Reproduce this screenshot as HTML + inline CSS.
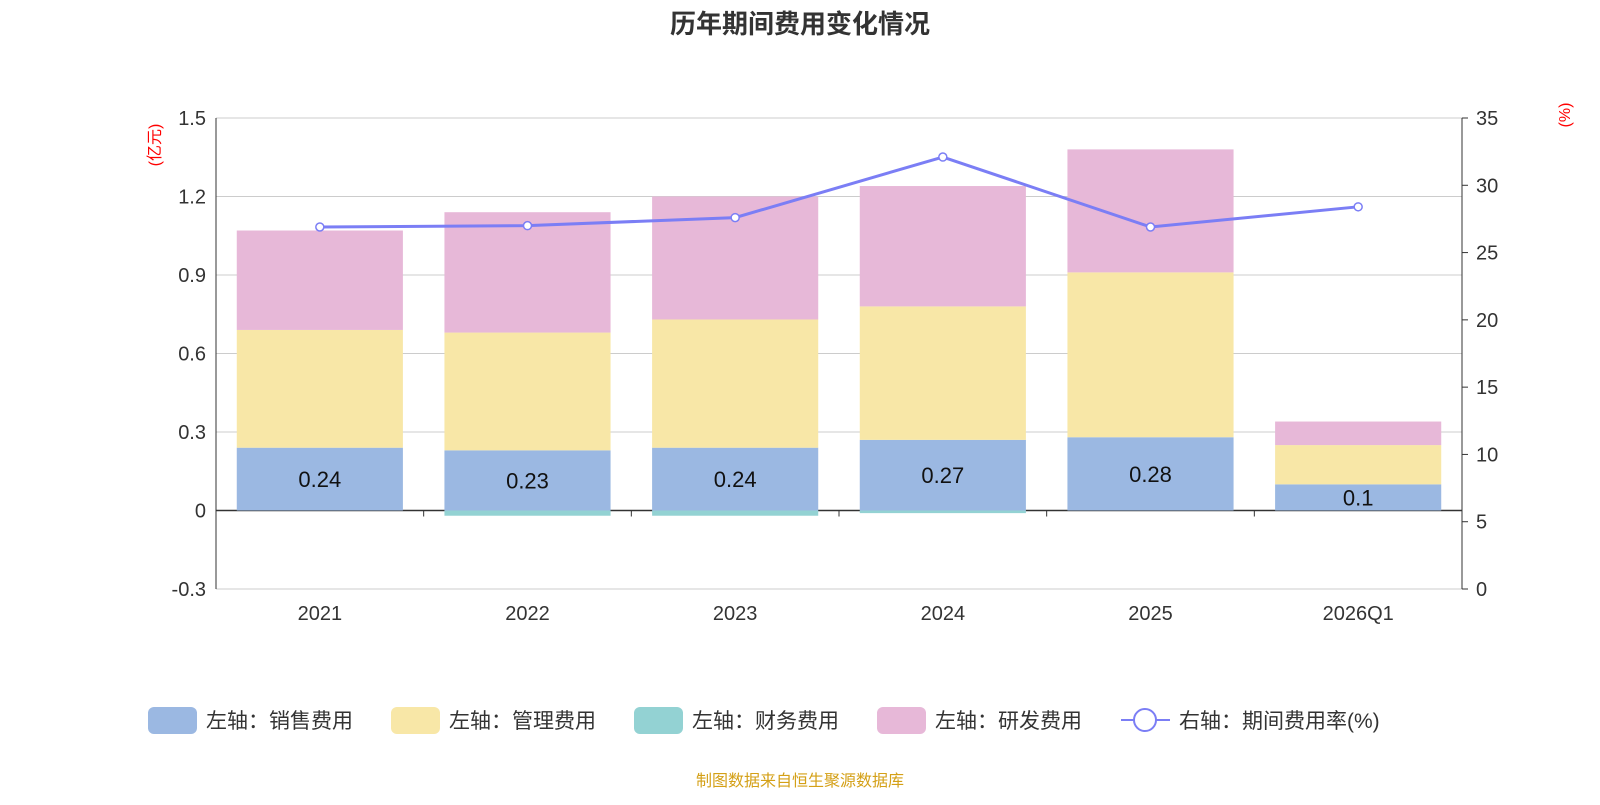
<!DOCTYPE html>
<html><head><meta charset="utf-8"><style>
body{margin:0;background:#fff;font-family:"Liberation Sans","Noto Sans CJK SC",sans-serif;}
svg text{font-family:"Liberation Sans","Noto Sans CJK SC",sans-serif;}
</style></head><body>
<svg id="c" width="1600" height="800">
<text x="800" y="33" text-anchor="middle" font-size="26" font-weight="bold" fill="#333">历年期间费用变化情况</text>
<text transform="translate(160,145) rotate(-90)" text-anchor="middle" font-size="16" fill="#f00">(亿元)</text>
<text transform="translate(1570,115) rotate(-90)" text-anchor="middle" font-size="16" fill="#f00">(%)</text>
<g id="grid"></g><g id="bars"></g><g id="line"></g><g id="axes"></g>
<g id="legend"></g>
<text x="800" y="786" text-anchor="middle" font-size="16" fill="#d4a017">制图数据来自恒生聚源数据库</text>
</svg>
<script>
const categories=["2021","2022","2023","2024","2025","2026Q1"];
const sales=[0.24,0.23,0.24,0.27,0.28,0.10];
const mgmt=[0.45,0.45,0.49,0.51,0.63,0.15];
const fin=[0,-0.02,-0.02,-0.01,0,0];
const rd=[0.38,0.46,0.47,0.46,0.47,0.09];
const rate=[26.9,27.0,27.6,32.1,26.9,28.4];
const leftTicks=[-0.3,0,0.3,0.6,0.9,1.2,1.5];
const rightTicks=[0,5,10,15,20,25,30,35];
const L=216,R=1462,T=118,B=589;
const yL=v=>B-(v+0.3)/1.8*(B-T);
const yR=v=>B-v/35*(B-T);
const bw=(R-L)/categories.length;
const xC=i=>L+bw*(i+0.5);
const NS="http://www.w3.org/2000/svg";
function mk(tag,attrs,parent,text){const e=document.createElementNS(NS,tag);for(const k in attrs)e.setAttribute(k,attrs[k]);if(text!==undefined)e.textContent=text;document.getElementById(parent).appendChild(e);return e;}
leftTicks.forEach(t=>{
 const g=mk('line',{x1:L,x2:R,y1:yL(t),y2:yL(t),stroke:t===0?'#333':'#ccc','stroke-width':t===0?1.5:1},'grid');
 
 const tx=mk('text',{x:L-10,y:yL(t)+7,'text-anchor':'end','font-size':20,fill:'#333'},'axes',String(t));
 
});
rightTicks.forEach(t=>{
 const tx=mk('text',{x:R+14,y:yR(t)+7,'font-size':20,fill:'#333'},'axes',String(t));
 
 const tk=mk('line',{x1:R,x2:R+6,y1:yR(t),y2:yR(t),stroke:'#333'},'axes');
 
});
mk('line',{x1:L,x2:L,y1:T,y2:B,stroke:'#333'},'axes');
mk('line',{x1:R,x2:R,y1:T,y2:B,stroke:'#333'},'axes');
for(let i=0;i<=categories.length;i++){const tk=mk('line',{x1:L+bw*i,x2:L+bw*i,y1:yL(0),y2:yL(0)+6,stroke:'#333'},'axes');}
const cols=['#9bb8e2','#f8e7a7','#93d2d3','#e7b8d8'];
const series=[sales,mgmt,fin,rd];
categories.forEach((c,i)=>{
 const tx=mk('text',{x:xC(i),y:620,'text-anchor':'middle','font-size':20,fill:'#333'},'axes',c);
 
 let pos=0,neg=0;const w=bw*0.8;
 series.forEach((s,k)=>{
  const v=s[i];let y0,y1;
  if(v>=0){y0=pos;y1=pos+v;pos=y1;}else{y0=neg;y1=neg+v;neg=y1;}
  const r=mk('rect',{x:xC(i)-w/2,y:Math.min(yL(y0),yL(y1)),width:w,height:Math.abs(yL(y1)-yL(y0)),fill:cols[k]},'bars');
  
 });
 const lb=mk('text',{x:xC(i),y:(yL(0)+yL(sales[i]))/2+8,'text-anchor':'middle','font-size':22,fill:'#111'},'bars',String(sales[i]));
 
});
const pts=rate.map((v,i)=>xC(i)+','+yR(v)).join(' ');
const pl=mk('polyline',{points:pts,fill:'none',stroke:'#7b7ef5','stroke-width':3},'line');

rate.forEach((v,i)=>{const p=mk('circle',{cx:xC(i),cy:yR(v),r:4,fill:'#fff',stroke:'#7b7ef5','stroke-width':1.5},'line');});
const leg=[['左轴：销售费用',148],['左轴：管理费用',391],['左轴：财务费用',634],['左轴：研发费用',877]];
leg.forEach((l,k)=>{
 const r=mk('rect',{x:l[1],y:707,width:49,height:27,rx:6,fill:cols[k]},'legend');
 const t=mk('text',{x:l[1]+58,y:728,'font-size':21,fill:'#333'},'legend',l[0]);
});
mk('line',{x1:1121,x2:1170,y1:720,y2:720,stroke:'#7b7ef5','stroke-width':2},'legend');
mk('circle',{cx:1145,cy:720,r:11,fill:'#fff',stroke:'#7b7ef5','stroke-width':2},'legend');
const t5=mk('text',{x:1179,y:728,'font-size':21,fill:'#333'},'legend','右轴：期间费用率(%)');
</script>
</body></html>
